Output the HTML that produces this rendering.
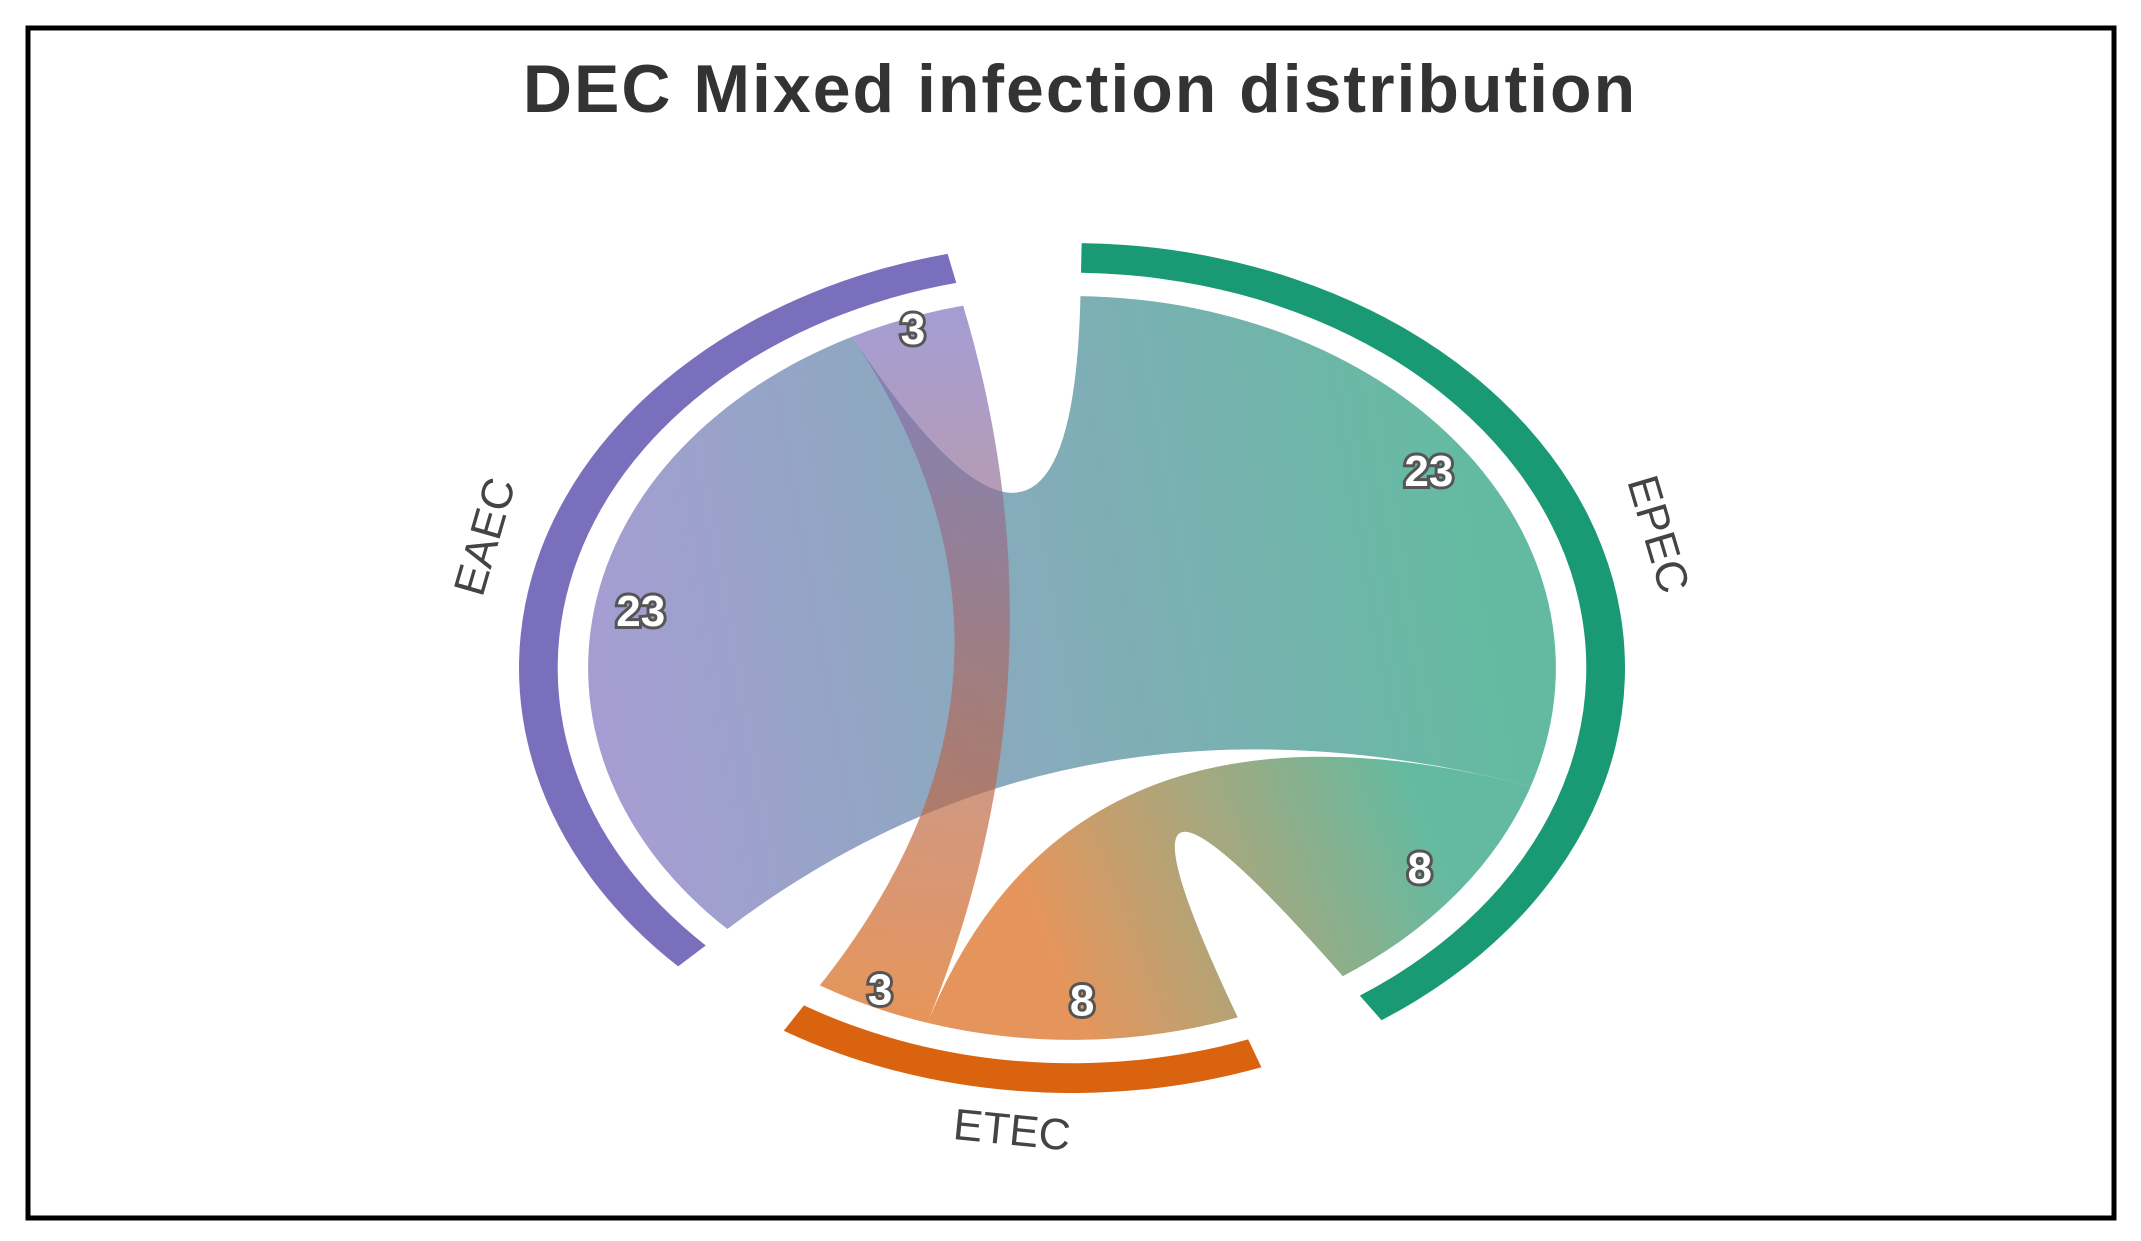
<!DOCTYPE html>
<html><head><meta charset="utf-8">
<style>
html,body{margin:0;padding:0;background:#fff;}
svg{display:block;font-family:"Liberation Sans",sans-serif;}
</style></head>
<body>
<svg id="chart" width="2141" height="1241" viewBox="0 0 2141 1241">
<rect x="28" y="28" width="2086" height="1190" fill="#fff" stroke="#000" stroke-width="5"/>
<text x="1080" y="112" text-anchor="middle" font-size="68" font-weight="bold" letter-spacing="2" fill="#333">DEC Mixed infection distribution</text>
<defs id="defs"></defs>
<g id="chords"></g>
<g id="arcs"></g>
<g id="labels"></g>
</svg>
<script>
const groups = ["EPEC", "ETEC", "EAEC"];
const groupColors = ["#1a9a74", "#d9630f", "#7a6fbd"];
// matrix[i][j] = mixed infections between groups i and j
const matrix = [
  [0, 8, 23],
  [8, 0, 3],
  [23, 3, 0]
];
// sub-segment order within each group (clockwise)
const order = [[2, 1], [0, 2], [0, 1]];

const NS = "http://www.w3.org/2000/svg";
const cx = 1072, cy = 668, RX = 553, RY = 425;
const gapDeg = 14, startDeg = 1;
const rOuter = 1.0, rInner = 0.93, rChord = 0.875, rNum = 0.79, rName = 1.1;

function pt(aDeg, f) {
  const a = aDeg * Math.PI / 180;
  return [cx + f * RX * Math.sin(a), cy - f * RY * Math.cos(a)];
}
function arcTo(a2, f, a1, sweep) {
  const p = pt(a2, f);
  const large = Math.abs(a2 - a1) > 180 ? 1 : 0;
  return `A${f*RX},${f*RY} 0 ${large} ${sweep} ${p[0]},${p[1]}`;
}

const totals = groups.map((g, i) => matrix[i].reduce((s, v) => s + v, 0));
const grand = totals.reduce((s, v) => s + v, 0);
const k = (360 - gapDeg * groups.length) / grand;

const segs = {};
const groupAngles = [];
let a = startDeg;
groups.forEach((g, i) => {
  const g0 = a;
  order[i].forEach(j => {
    const span = matrix[i][j] * k;
    segs[i + "-" + j] = [a, a + span];
    a += span;
  });
  groupAngles.push([g0, a]);
  a += gapDeg;
});

const defs = document.getElementById("defs");
const chordG = document.getElementById("chords");
const arcG = document.getElementById("arcs");
const labG = document.getElementById("labels");

for (let i = 0; i < groups.length; i++) {
  for (let j = i + 1; j < groups.length; j++) {
    if (!matrix[i][j]) continue;
    const s = segs[i + "-" + j], t = segs[j + "-" + i];
    const s0 = pt(s[0], rChord), t0 = pt(t[0], rChord);
    const sm = pt((s[0] + s[1]) / 2, rChord), tm = pt((t[0] + t[1]) / 2, rChord);
    const gid = "grad" + i + j;
    const lg = document.createElementNS(NS, "linearGradient");
    lg.setAttribute("id", gid);
    lg.setAttribute("gradientUnits", "userSpaceOnUse");
    lg.setAttribute("x1", sm[0]); lg.setAttribute("y1", sm[1]);
    lg.setAttribute("x2", tm[0]); lg.setAttribute("y2", tm[1]);
    lg.innerHTML = `<stop offset="0" stop-color="${groupColors[i]}"/><stop offset="1" stop-color="${groupColors[j]}"/>`;
    defs.appendChild(lg);
    const d = `M${s0[0]},${s0[1]} ${arcTo(s[1], rChord, s[0], 1)} Q${cx},${cy} ${t0[0]},${t0[1]} ${arcTo(t[1], rChord, t[0], 1)} Q${cx},${cy} ${s0[0]},${s0[1]}Z`;
    const p = document.createElementNS(NS, "path");
    p.setAttribute("d", d);
    p.setAttribute("fill", `url(#${gid})`);
    p.setAttribute("fill-opacity", "0.68");
    
    
    chordG.appendChild(p);
  }
}

groups.forEach((g, i) => {
  const [g0, g1] = groupAngles[i];
  const o0 = pt(g0, rOuter), i1 = pt(g1, rInner);
  const d = `M${o0[0]},${o0[1]} ${arcTo(g1, rOuter, g0, 1)} L${i1[0]},${i1[1]} ${arcTo(g0, rInner, g1, 0)}Z`;
  const p = document.createElementNS(NS, "path");
  p.setAttribute("d", d);
  p.setAttribute("fill", groupColors[i]);
  
  
  arcG.appendChild(p);

  const mid = (g0 + g1) / 2;
  const np = pt(mid, rName);
  let rot = mid;
  if (mid > 100 && mid < 260) rot = mid - 180;
  const t = document.createElementNS(NS, "text");
  t.setAttribute("x", np[0]); t.setAttribute("y", np[1]);
  t.setAttribute("text-anchor", "middle");
  t.setAttribute("dominant-baseline", "middle");
  t.setAttribute("font-size", "44");
  t.setAttribute("fill", "#444");
  t.setAttribute("transform", `rotate(${rot} ${np[0]} ${np[1]})`);
  t.textContent = g;
  
  
  labG.appendChild(t);
});

Object.keys(segs).forEach(key => {
  const [i, j] = key.split("-").map(Number);
  const s = segs[key];
  const m = (s[0] + s[1]) / 2;
  const f = matrix[i][j] < 5 ? 0.84 : rNum;
  const p = pt(m, f);
  const t = document.createElementNS(NS, "text");
  t.setAttribute("x", p[0]); t.setAttribute("y", p[1]);
  t.setAttribute("text-anchor", "middle");
  t.setAttribute("dominant-baseline", "middle");
  t.setAttribute("font-size", "44");
  t.setAttribute("font-weight", "bold");
  t.setAttribute("fill", "#fff");
  t.setAttribute("stroke", "#555");
  t.setAttribute("stroke-width", "6");
  t.setAttribute("paint-order", "stroke");
  t.textContent = matrix[i][j];
  
  
  labG.appendChild(t);
});
</script>
</body></html>
